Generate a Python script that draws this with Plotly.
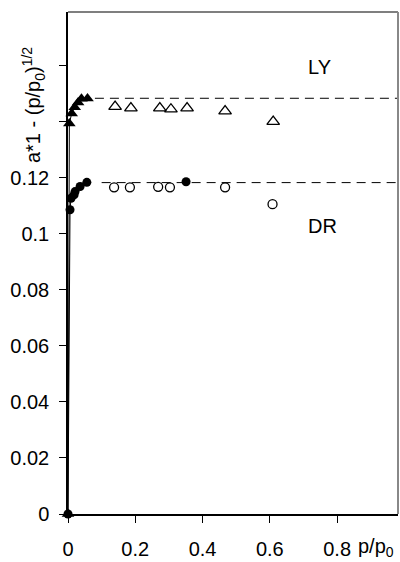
import plotly.graph_objects as go

# ---- data ----
ly_filled_x = [0.0, 0.004, 0.011, 0.020, 0.030, 0.040, 0.058]
ly_filled_y = [0.0, 0.1394, 0.1430, 0.1452, 0.1469, 0.1482, 0.1483]
ly_open_x = [0.140, 0.187, 0.273, 0.306, 0.354, 0.467, 0.610]
ly_open_y = [0.1454, 0.1449, 0.1449, 0.1445, 0.1449, 0.1438, 0.1401]

dr_filled_x = [0.0, 0.006, 0.009, 0.018, 0.021, 0.036, 0.056, 0.351]
dr_filled_y = [0.0, 0.1086, 0.1127, 0.1139, 0.1151, 0.1169, 0.1184, 0.1186]
dr_open_x = [0.137, 0.184, 0.268, 0.303, 0.467, 0.608]
dr_open_y = [0.1166, 0.1166, 0.1168, 0.1166, 0.1166, 0.1106]

ly_level = 0.1484
dr_level = 0.1183
ly_line_x = [0.08, 0.981]
dr_line_x = [0.10, 0.981]

x_ticks = [0, 0.2, 0.4, 0.6, 0.8]
x_ticktext = ["0", "0.2", "0.4", "0.6", "0.8"]
y_ticks = [0, 0.02, 0.04, 0.06, 0.08, 0.10, 0.12, 0.14, 0.16]
y_ticktext = ["0", "0.02", "0.04", "0.06", "0.08", "0.1", "0.12", "", ""]

FONT = "Liberation Sans, Arial, sans-serif"
FS = 20

fig = go.Figure()

# dashed plateau lines
fig.add_trace(go.Scatter(x=ly_line_x, y=[ly_level, ly_level], mode="lines",
                         line=dict(color="black", width=1, dash="9px,6px"),
                         hoverinfo="skip", showlegend=False))
fig.add_trace(go.Scatter(x=dr_line_x, y=[dr_level, dr_level], mode="lines",
                         line=dict(color="black", width=1, dash="9px,6px"),
                         hoverinfo="skip", showlegend=False))

fig.add_trace(go.Scatter(x=ly_filled_x, y=ly_filled_y, mode="lines+markers",
                         line=dict(color="black", width=1),
                         marker=dict(symbol="triangle-up", size=11, color="black"),
                         cliponaxis=False, showlegend=False))
fig.add_trace(go.Scatter(x=dr_filled_x[:-1], y=dr_filled_y[:-1], mode="lines+markers",
                         line=dict(color="black", width=1),
                         marker=dict(symbol="circle", size=9, color="black"),
                         cliponaxis=False, showlegend=False))
fig.add_trace(go.Scatter(x=dr_filled_x[-1:], y=dr_filled_y[-1:], mode="markers",
                         marker=dict(symbol="circle", size=9, color="black"),
                         cliponaxis=False, showlegend=False))
fig.add_trace(go.Scatter(x=ly_open_x, y=ly_open_y, mode="markers",
                         marker=dict(symbol="triangle-up-open", size=11, color="black",
                                     line=dict(width=1.3, color="black")),
                         showlegend=False))
fig.add_trace(go.Scatter(x=dr_open_x, y=dr_open_y, mode="markers",
                         marker=dict(symbol="circle-open", size=9, color="black",
                                     line=dict(width=1.3, color="black")),
                         showlegend=False))

fig.update_layout(
    width=400, height=562,
    margin=dict(l=68, r=2, t=12, b=43),
    paper_bgcolor="white", plot_bgcolor="white",
    font=dict(family=FONT, size=FS, color="black"),
    xaxis=dict(range=[0, 0.981], tickvals=x_ticks, ticktext=x_ticktext,
               ticks="outside", ticklen=7, tickcolor="black", tickwidth=1,
               showline=True, linecolor="black", linewidth=1.5,
               showgrid=False, zeroline=False, ticklabelstandoff=9),
    yaxis=dict(range=[0, 0.1792], tickvals=y_ticks, ticktext=y_ticktext,
               ticks="outside", ticklen=7, tickcolor="black", tickwidth=1,
               showline=True, linecolor="black", linewidth=1.5,
               showgrid=False, zeroline=False, ticklabelstandoff=6),
    shapes=[
        dict(type="line", xref="paper", yref="paper", x0=0, x1=1, y0=1, y1=1,
             line=dict(color="#555555", width=1.5)),
        dict(type="line", xref="paper", yref="paper", x0=1, x1=1, y0=0, y1=1,
             line=dict(color="#888888", width=2)),
    ],
    annotations=[
        dict(text="LY", x=0.749, y=0.1594, xref="x", yref="y", showarrow=False,
             font=dict(size=FS)),
        dict(text="DR", x=0.758, y=0.1028, xref="x", yref="y", showarrow=False,
             font=dict(size=FS)),
        dict(text="a*1 - (p/p<sub>0</sub>)<sup>1/2</sup>", textangle=-90,
             xref="paper", yref="paper", x=(33 - 68) / 330, y=(519 - 106) / 507,
             xanchor="center", yanchor="middle", showarrow=False,
             font=dict(size=FS)),
        dict(text="p/p<sub>0</sub>", xref="paper", yref="paper",
             x=(356 - 68) / 330, y=-(553 - 519) / 507, xanchor="left",
             yanchor="middle", showarrow=False, font=dict(size=FS)),
    ],
)

fig.write_html("out.html")
